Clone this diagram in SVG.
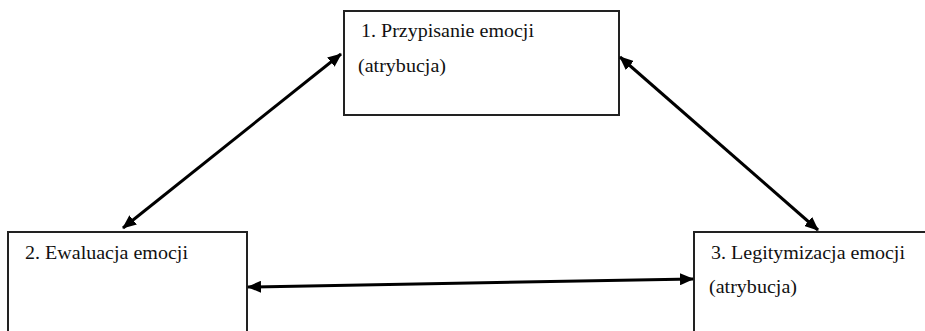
<svg xmlns="http://www.w3.org/2000/svg" width="925" height="331" viewBox="0 0 925 331">
<defs>
<style>
.box{fill:#fff;stroke:#222;stroke-width:2}
.lbl{font-family:'Liberation Serif','Times New Roman',serif;font-size:19.5px;fill:#111}
.conn{stroke:#000;stroke-width:3;fill:none;marker-start:url(#ah);marker-end:url(#ah)}
</style>
<marker id="ah" viewBox="0 0 14 12" refX="13" refY="6" markerWidth="14" markerHeight="12" markerUnits="userSpaceOnUse" orient="auto-start-reverse">
<path d="M0,0 L14,6 L0,12 z" fill="#000"/>
</marker>
</defs>
<rect width="925" height="331" fill="#fff"/>
<g id="node1">
<rect class="box" x="344" y="11" width="275" height="104"/>
<text class="lbl" x="361" y="37" textLength="173" lengthAdjust="spacingAndGlyphs">1. Przypisanie emocji</text>
<text class="lbl" x="358" y="72" textLength="88" lengthAdjust="spacingAndGlyphs">(atrybucja)</text>
</g>
<g id="node2">
<rect class="box" x="8" y="232" width="239" height="110"/>
<text class="lbl" x="25" y="259" textLength="163" lengthAdjust="spacingAndGlyphs">2. Ewaluacja emocji</text>
</g>
<g id="node3">
<rect class="box" x="694" y="232" width="240" height="110"/>
<text class="lbl" x="711" y="259" textLength="194" lengthAdjust="spacingAndGlyphs">3. Legitymizacja emocji</text>
<text class="lbl" x="709" y="293" textLength="88" lengthAdjust="spacingAndGlyphs">(atrybucja)</text>
</g>
<g id="connectors">
<line class="conn" x1="123" y1="228" x2="341" y2="54"/>
<line class="conn" x1="620" y1="57" x2="818" y2="230"/>
<line class="conn" x1="248" y1="287" x2="693" y2="279"/>
</g>
</svg>
